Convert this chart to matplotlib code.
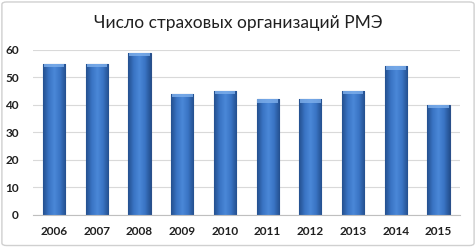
import matplotlib.pyplot as plt
import numpy as np
from matplotlib.colors import LinearSegmentedColormap
from matplotlib.patches import FancyBboxPatch

# данные
years = ['2006', '2007', '2008', '2009', '2010', '2011', '2012', '2013', '2014', '2015']
counts = [55, 55, 59, 44, 45, 42, 42, 45, 54, 40]
yticks = [0, 10, 20, 30, 40, 50, 60]

plt.rcParams['font.family'] = ['Lato', 'DejaVu Sans']

fig = plt.figure(figsize=(4.76, 2.47), dpi=100)
fig.patch.set_facecolor('white')

# рамка вокруг диаграммы
frame = FancyBboxPatch((0.004, 0.006), 0.992, 0.986, boxstyle='round,pad=0,rounding_size=0.01',
                       transform=fig.transFigure, fc='none', ec='#d0d0d0', lw=1.0, zorder=-1)
fig.patches.append(frame)

ax = fig.add_axes([0.069, 0.130, 0.897, 0.668])
ax.patch.set_alpha(0)
x = np.arange(len(years))
width = 0.52

bars = ax.bar(x, counts, width=width, color='#3f77c8', edgecolor='#2a4f8a', linewidth=0.8, zorder=2)

# градиент внутри столбцов
cmap = LinearSegmentedColormap.from_list('bar', ['#24508f', '#3a74c4', '#4a88d8', '#3a74c4', '#24508f'])
grad = np.linspace(0, 1, 64).reshape(1, -1)
for b in bars:
    bx, bw, bh = b.get_x(), b.get_width(), b.get_height()
    im = ax.imshow(grad, cmap=cmap, aspect='auto', extent=(bx, bx + bw, 0, bh), zorder=2.5)
    im.set_clip_path(b)
    # светлая фаска сверху
    ax.fill_between([bx + 0.02, bx + bw - 0.02], bh - 1.2, bh, color='#7fb0ec', alpha=0.8,
                    linewidth=0, zorder=2.6)

ax.set_xlim(-0.5, len(years) - 0.5)
ax.set_ylim(0, 60)
ax.set_yticks(yticks)
ax.set_xticks(x)
ax.set_xticklabels(years)

ax.grid(axis='y', color='#d9d9d9', linewidth=0.8, zorder=0)
for s in ['top', 'right', 'left']:
    ax.spines[s].set_visible(False)
ax.spines['bottom'].set_color('#bfbfbf')
ax.tick_params(length=0, labelsize=8.5, colors='#202020', pad=8)
ax.tick_params(axis='y', pad=10)
for lab in ax.get_xticklabels() + ax.get_yticklabels():
    lab.set_fontweight('bold')

fig.text(0.5, 0.905, 'Число страховых организаций РМЭ', ha='center', va='center',
         fontsize=12.5, color='#202020')

plt.savefig('out.png', dpi=100)
